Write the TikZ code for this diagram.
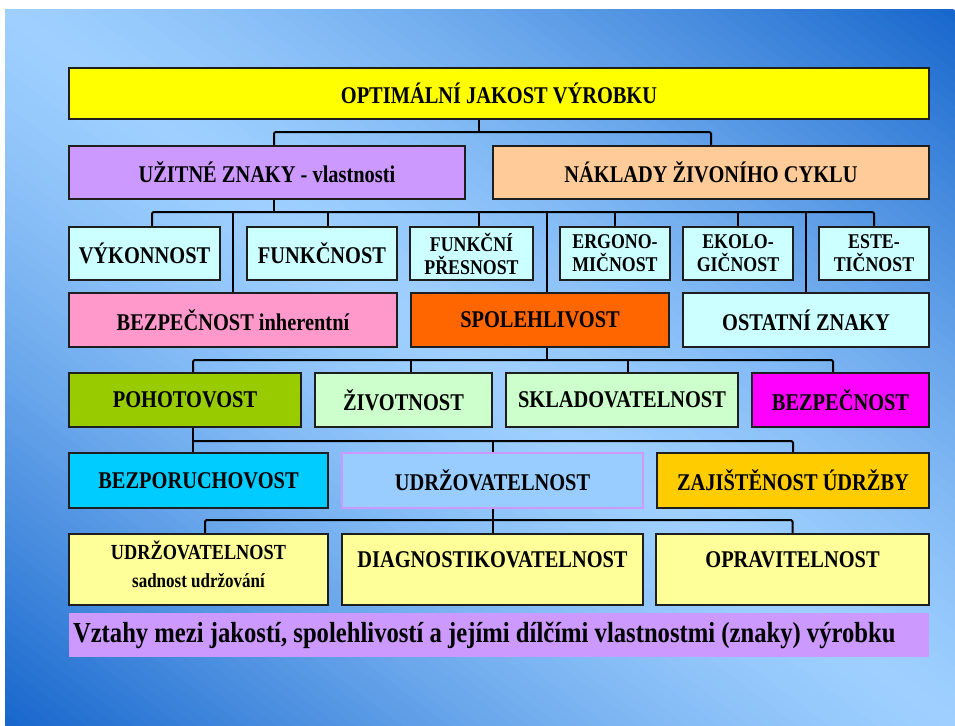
\documentclass[tikz,border=0pt]{standalone}
\usepackage{fontspec}
\setmainfont{Liberation Serif}[FakeStretch=0.85]
\usetikzlibrary{calc}

\definecolor{bgdark}{HTML}{1666CC}
\definecolor{bglight}{HTML}{9ECFFF}
\definecolor{boxline}{HTML}{1E1E1E}
\definecolor{cYellow}{HTML}{FFFF00}
\definecolor{cPurple}{HTML}{CC99FF}
\definecolor{cPeach}{HTML}{FFCC99}
\definecolor{cIce}{HTML}{CCFFFF}
\definecolor{cPink}{HTML}{FF99CC}
\definecolor{cOrange}{HTML}{FF6600}
\definecolor{cOlive}{HTML}{99CC00}
\definecolor{cMint}{HTML}{CCFFCC}
\definecolor{cMagenta}{HTML}{FF00FF}
\definecolor{cCyan}{HTML}{00CCFF}
\definecolor{cSky}{HTML}{99CCFF}
\definecolor{cGold}{HTML}{FFCC00}
\definecolor{cCream}{HTML}{FFFF99}

% box given by its corners: [extra style]{name}{x1}{y1}{x2}{y2}{fill}{text}
\newcommand\mybox[8][]{%
  \node[box, fill=#7, minimum width={#5-#3}, minimum height={#6-#4}, #1]
    (#2) at ({(#3+#5)/2},{(#4+#6)/2}) {#8};}

\begin{document}
\begin{tikzpicture}[x=1pt, y=-1pt,
  box/.style={draw=boxline, line width=2.5pt, inner sep=0pt, align=center,
    text=black, font=\bfseries\fontsize{24}{26}\selectfont},
  twoline/.style={font=\bfseries\fontsize{21}{23}\selectfont},
  conn/.style={draw=black, line width=2pt, rounded corners=1.5pt},
  captext/.style={inner sep=0pt, text=black, font=\bfseries\fontsize{29}{30}\selectfont}]

\useasboundingbox (0,0) rectangle (955,725);
\fill[white] (0,0) rectangle (955,725);

% backdrop: light along the main diagonal, darker towards the other two
% corners, built from thin bands parallel to that diagonal
\begin{scope}
  \clip (5,10) rectangle (955,725);
  \begin{scope}[shift={(480,367.5)}, rotate=-37]
    \foreach \i in {0,...,119} {
      \pgfmathsetmacro\va{-571+\i*9.5167}
      \pgfmathsetmacro\vb{\va+10.3}
      \pgfmathsetmacro\p{100*(abs(\va+4.758)/571)^1.35}
      \fill[bgdark!\p!bglight] (-720,\va) rectangle (720,\vb);
    }
  \end{scope}
\end{scope}

% level 1 and 2
\mybox{top}{69}{68}{929}{119}{cYellow}{OPTIMÁLNÍ JAKOST VÝROBKU}
\mybox{uzit}{69}{146}{465}{199}{cPurple}{UŽITNÉ ZNAKY - vlastnosti}
\mybox{nakl}{493}{146}{929}{199}{cPeach}{NÁKLADY ŽIVONÍHO CYKLU}

% level 3
\mybox{vyk}{69}{227}{220}{280}{cIce}{VÝKONNOST}
\mybox{fun}{247}{227}{397}{280}{cIce}{FUNKČNOST}
\mybox[twoline]{fpr}{410}{227}{533}{280}{cIce}{FUNKČNÍ\\PŘESNOST}
\mybox[twoline]{erg}{560}{227}{670}{280}{cIce}{ERGONO-\\MIČNOST}
\mybox[twoline]{eko}{683}{227}{793}{280}{cIce}{EKOLO-\\GIČNOST}
\mybox[twoline]{est}{819}{227}{929}{280}{cIce}{ESTE-\\TIČNOST}

% level 4
\mybox{bez1}{69}{293}{397}{347}{cPink}{BEZPEČNOST inherentní}
\mybox{spo}{411}{293}{669}{347}{cOrange}{SPOLEHLIVOST}
\mybox{ost}{683}{293}{929}{347}{cIce}{OSTATNÍ ZNAKY}

% level 5
\mybox{poh}{69}{373}{301}{427}{cOlive}{POHOTOVOST}
\mybox{ziv}{315}{373}{492}{427}{cMint}{ŽIVOTNOST}
\mybox{skl}{506}{373}{738}{427}{cMint}{SKLADOVATELNOST}
\mybox{bez2}{752}{373}{929}{427}{cMagenta}{BEZPEČNOST}

% level 6
\mybox[draw=cPurple, line width=1.8pt]{udr}{342}{453}{643}{508}{cSky}{UDRŽOVATELNOST}
\mybox{bpo}{69}{453}{328}{508}{cCyan}{BEZPORUCHOVOST}
\mybox{zaj}{657}{453}{929}{508}{cGold}{ZAJIŠTĚNOST ÚDRŽBY}

% level 7 (text sits in the upper part of the boxes)
\mybox{udr2}{69}{534}{328}{605}{cCream}{}
\mybox{dia}{342}{534}{643}{605}{cCream}{}
\mybox{opr}{656}{534}{929}{605}{cCream}{}
\node[inner sep=0pt, align=center, text=black,
      font=\bfseries\fontsize{21.5}{28}\selectfont] (udr2t) at (198.5,564)
  {UDRŽOVATELNOST\\
   \fontsize{20}{28}\selectfont sadnost udržování};
\node[inner sep=0pt, text=black, font=\bfseries\fontsize{24}{26}\selectfont]
  (diat) at (492.5,560) {DIAGNOSTIKOVATELNOST};
\node[inner sep=0pt, text=black, font=\bfseries\fontsize{24}{26}\selectfont]
  (oprt) at (792.5,560) {OPRAVITELNOST};

% caption strip
\node[fill=cPurple, draw=none, inner sep=0pt, minimum width=860, minimum height=44]
  (cap) at (499,635) {};
\node[captext, anchor=west] (captxt) at ([xshift=4pt]cap.west)
  {Vztahy mezi jakostí, spolehlivostí a jejími dílčími vlastnostmi (znaky) výrobku};

% connector junctions
\coordinate (b1) at (479,132);
\coordinate (b2) at (274,212);
\coordinate (b3) at (547,360);
\coordinate (b4) at (193,441);
\coordinate (b5) at (493,520);

\coordinate (duzit) at ([xshift=7pt]uzit.north);
\coordinate (dvyk) at ([xshift=7.5pt]vyk.north);
\coordinate (dfun) at ([xshift=6pt]fun.north);
\coordinate (dfpr) at ([xshift=7.5pt]fpr.north);
\coordinate (dspo) at ([xshift=7pt]spo.north);
\coordinate (dpoh) at ([xshift=8pt]poh.north);
\coordinate (dziv) at ([xshift=7.5pt]ziv.north);
\coordinate (dskl) at ([xshift=6pt]skl.north);
\coordinate (dbez2) at ([xshift=-7.5pt]bez2.north);
\coordinate (dudr2) at ([xshift=6.5pt]udr2.north);

% level 1 -> 2
\draw[conn] (b1 |- top.south) -- (b1);
\draw[conn] (duzit) |- (b1) -| (nakl.north);

% level 2 -> 3 and 4
\draw[conn] (b2 |- uzit.south) -- (b2);
\draw[conn] (dvyk) |- (b2) -| (est.north);
\draw[conn] (b2 -| dfun) -- (dfun);
\draw[conn] (b2 -| dfpr) -- (dfpr);
\draw[conn] (b2 -| erg.north) -- (erg.north);
\draw[conn] (b2 -| eko.north) -- (eko.north);
\draw[conn] (b2 -| bez1.north) -- (bez1.north);
\draw[conn] (b2 -| dspo) -- (dspo);
\draw[conn] (b2 -| ost.north) -- (ost.north);

% level 4 -> 5
\draw[conn] (b3 |- spo.south) -- (b3);
\draw[conn] (dpoh) |- (b3) -| (dbez2);
\draw[conn] (b3 -| dziv) -- (dziv);
\draw[conn] (b3 -| dskl) -- (dskl);

% level 5 -> 6
\draw[conn] (b4 |- poh.south) -- (b4 |- bpo.north);
\draw[conn] (b4) -| (zaj.north);
\draw[conn] (b4 -| udr.north) -- (udr.north);

% level 6 -> 7
\draw[conn] (udr.south) -- (dia.north);
\draw[conn] (dudr2) |- (b5) -| (opr.north);

\end{tikzpicture}
\end{document}
